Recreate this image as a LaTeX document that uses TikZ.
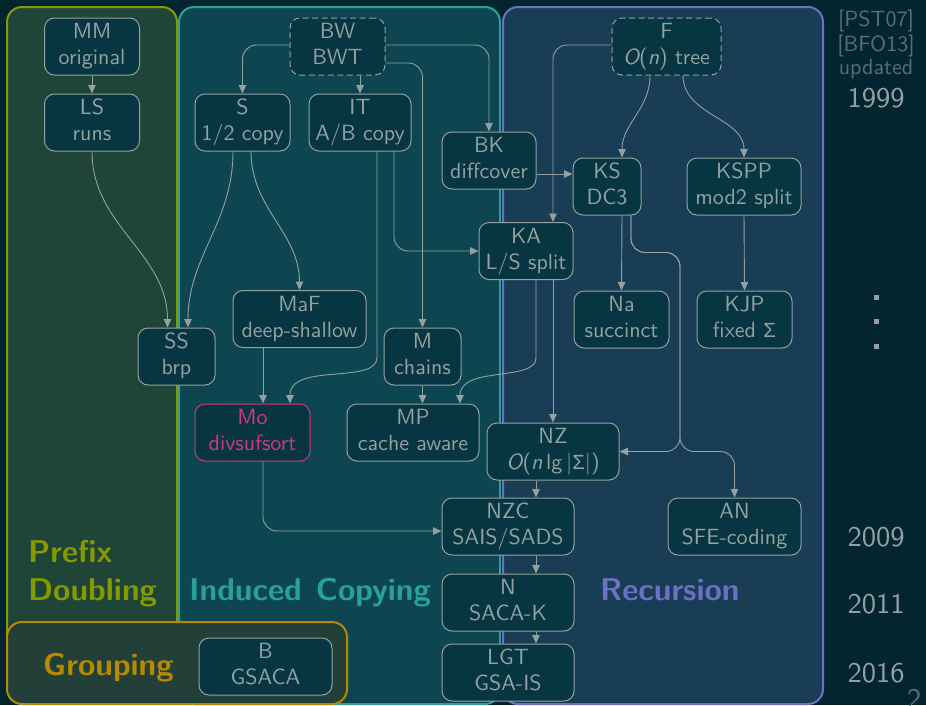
\documentclass[tikz,border=0pt]{standalone}
\usepackage{fontspec}
\setsansfont{lmsans10-regular}[Extension=.otf, BoldFont=lmsans10-bold, ItalicFont=lmsans10-oblique, BoldItalicFont=lmsans10-boldoblique]
\newfontfamily\sigmafont{Liberation Sans}[Scale=0.93]
\usetikzlibrary{arrows.meta}
\definecolor{bgc}{HTML}{032530}
\definecolor{nodefill}{HTML}{073642}
\definecolor{txt}{HTML}{93A1A1}
\definecolor{dim}{HTML}{586E75}
\definecolor{sgreen}{HTML}{859900}
\definecolor{scyan}{HTML}{2AA198}
\definecolor{sviolet}{HTML}{6C71C4}
\definecolor{syellow}{HTML}{B58900}
\definecolor{smagenta}{HTML}{D33682}
\definecolor{greenfill}{HTML}{1F4438}
\definecolor{cyanfill}{HTML}{0D4650}
\definecolor{violetfill}{HTML}{183D55}
\definecolor{yellowfill}{HTML}{223F38}
\newcommand\mynodefont{\fontsize{22}{26}\selectfont\sffamily}
\newcommand\mygrpfont{\fontsize{31.5}{37}\selectfont\sffamily\bfseries}
\newcommand\mysidefont{\fontsize{22}{26}\selectfont\sffamily}
\newcommand\myyearfont{\fontsize{28.5}{34}\selectfont\sffamily}
\newcommand\twolines[2]{\strut#1\\\strut#2}
\newcommand\mySig{{\sigmafont Σ}}
\tikzset{
  algo/.style={draw=txt, fill=nodefill, text=txt, rounded corners=10pt, line width=1pt,
    minimum height=57pt, inner sep=0pt, align=center, font=\mynodefont},
  dashedalgo/.style={algo, dash pattern=on 6pt off 3.5pt},
  conn/.style={draw=txt, line width=0.9pt, -{Triangle[length=8.5pt,width=7.5pt]}, rounded corners=14pt},
  region/.style={rounded corners=15pt, line width=2pt},
  grp/.style={inner sep=0pt, font=\mygrpfont, anchor=base west},
  side/.style={inner sep=0pt, font=\mysidefont, text=dim, anchor=base},
  yearlbl/.style={inner sep=0pt, font=\myyearfont, text=txt, anchor=base},
}
\begin{document}
\begin{tikzpicture}[x=1pt,y=-1pt]
\useasboundingbox (0,0) rectangle (926,705);
\clip (0,0) rectangle (926,705);
\fill[bgc] (0,0) rectangle (926,705);

% regions
\draw[region, draw=scyan, fill=cyanfill] (179,7) rectangle (500,704);
\draw[region, draw=sviolet, fill=violetfill] (503,7) rectangle (823,704);
\draw[region, draw=sgreen, fill=greenfill] (7,7) rectangle (177,660);
\draw[region, draw=syellow, fill=yellowfill] (7,622) rectangle (347,704);

% region labels
\node[grp, text=sgreen] (lpd1) at (28,562) {Prefix};
\node[grp, text=sgreen] (lpd2) at (28,600) {Doubling};
\node[grp, text=scyan] (lic) at (189,600) {Induced\hspace{0.45em}Copying};
\node[grp, text=sviolet] (lrec) at (600,600) {Recursion};
\node[grp, text=syellow] (lgrp) at (43,675) {Grouping};

% right column
\node[side] (pst) at (876,26) {[PST07]};
\node[side] (bfo) at (876,51) {[BFO13]};
\node[side] (upd) at (876,74) {updated};
\node[yearlbl] (y1999) at (876,107) {1999};
\node[yearlbl] (y2009) at (876,546) {2009};
\node[yearlbl] (y2011) at (876,613) {2011};
\node[yearlbl] (y2016) at (876,682) {2016};
\fill[txt] (873.5,294.8) rectangle ++(5,5);
\fill[txt] (873.5,319.2) rectangle ++(5,5);
\fill[txt] (873.5,343.5) rectangle ++(5,5);
\node[inner sep=0pt, font=\myyearfont, text=dim, anchor=base west] (pg) at (907,708) {2};

% algorithm nodes
\node[algo, minimum width=95pt] (MM) at (92,46.5) {\twolines{MM}{original}};
\node[algo, minimum width=95pt] (LS) at (92,122.5) {\twolines{LS}{runs}};
\node[algo, minimum width=95pt] (S) at (242.5,122.5) {\twolines{S}{1/2 copy}};
\node[dashedalgo, minimum width=95pt] (BW) at (337.5,46.5) {\twolines{BW}{BWT}};
\node[algo, minimum width=102pt] (IT) at (360,122.5) {\twolines{IT}{A/B copy}};
\node[algo, minimum width=94pt] (BK) at (489,160.5) {\twolines{BK}{diffcover}};
\node[algo, minimum width=68pt] (KS) at (607,186.5) {\twolines{KS}{DC3}};
\node[algo, minimum width=114pt] (KSPP) at (744,186.5) {\twolines{KSPP}{mod2 split}};
\node[dashedalgo, minimum width=109pt] (F) at (666.5,46.5) {\twolines{F}{{\itshape O}({\itshape n}) tree}};
\node[algo, minimum width=94pt] (KA) at (526,251) {\twolines{KA}{L/S split}};
\node[algo, minimum width=95pt] (Na) at (621.5,319.5) {\twolines{Na}{succinct}};
\node[algo, minimum width=95pt] (KJP) at (744.5,319.5) {\twolines{KJP}{fixed \mySig}};
\node[algo, minimum width=133pt] (MaF) at (299.5,319) {\twolines{MaF}{deep-shallow}};
\node[algo, minimum width=77pt] (SS) at (176.5,356.5) {\twolines{SS}{brp}};
\node[algo, minimum width=77pt] (M) at (422.5,356.5) {\twolines{M}{chains}};
\node[algo, minimum width=115pt, draw=smagenta, text=smagenta] (Mo) at (252.5,432.5) {\twolines{Mo}{divsufsort}};
\node[algo, minimum width=132pt] (MP) at (413,432.5) {\twolines{MP}{cache aware}};
\node[algo, minimum width=132pt] (NZ) at (553,451.5) {\twolines{NZ}{{\itshape O}({\itshape n}\,lg\,|\mySig|)}};
\node[algo, minimum width=132pt] (NZC) at (508,526.5) {\twolines{NZC}{SAIS/SADS}};
\node[algo, minimum width=133pt] (AN) at (734.5,526.5) {\twolines{AN}{SFE-coding}};
\node[algo, minimum width=132pt] (N) at (508,602.5) {\twolines{N}{SACA-K}};
\node[algo, minimum width=132pt] (LGT) at (508,672.5) {\twolines{LGT}{GSA-IS}};
\node[algo, minimum width=133pt] (B) at (265.5,666.5) {\twolines{B}{GSACA}};

\coordinate (split) at (680,451.5);

% connectors
\draw[conn] (MM.south) -- (LS.north);
\draw[conn] (LS.south) to[out=-90,in=90] ([xshift=-9pt]SS.north);
\draw[conn] ([xshift=-9.5pt]S.south) to[out=-90,in=90] ([xshift=11.5pt]SS.north);
\draw[conn] ([xshift=8.5pt]S.south) to[out=-90,in=90] (MaF.north);
\draw[conn] ([yshift=1.5pt]BW.west) -| (S.north);
\draw[conn] ([xshift=22.5pt]BW.south) -- (IT.north);
\draw[conn] ([yshift=1.5pt]BW.east) -| (BK.north);
\draw[conn] ([yshift=-16.5pt]BW.east) -| (M.north);
\draw[conn] ([xshift=34pt]IT.south) |- (KA.west);
\draw[conn] ([xshift=17pt]IT.south) -- ++(0,192) to[out=-90,in=90] ([xshift=37.5pt]Mo.north);
\draw[conn] ([xshift=10pt]KA.south) -- ++(0,64) to[out=-90,in=90] ([xshift=47pt]MP.north);
\draw[conn] ([xshift=27pt]KA.south) -- (NZ.north);
\draw[conn] ([yshift=1.5pt]F.west) -| ([xshift=27pt]KA.north);
\draw[conn] ([xshift=-16.5pt]F.south) to[out=-90,in=90] ([xshift=15pt]KS.north);
\draw[conn] ([xshift=16.5pt]F.south) to[out=-90,in=90] (KSPP.north);
\draw[conn] ([yshift=-13.5pt]BK.east) -- ([yshift=-13.5pt]BK.east -| KS.west);
\draw[conn] ([xshift=15pt]KS.south) -- (Na.north);
\draw[conn] ([xshift=24pt]KS.south) -- ++(0,37) -| (split) -- (NZ.east);
\draw[conn] ([xshift=24pt]KS.south) -- ++(0,37) -| (split) -| (AN.north);
\draw[conn] (KSPP.south) -- (KJP.north);
\draw[conn] ([xshift=-36.5pt]MaF.south) -- ([xshift=10.5pt]Mo.north);
\draw[conn] (M.south) -- ([xshift=9.5pt]MP.north);
\draw[conn] ([xshift=-17pt]NZ.south) -- ([xshift=28pt]NZC.north);
\draw[conn] ([xshift=10.5pt]Mo.south) |- ([yshift=-4.5pt]NZC.west);
\draw[conn] ([xshift=28pt]NZC.south) -- ([xshift=28pt]N.north);
\draw[conn] ([xshift=28pt]N.south) -- ([xshift=28pt]LGT.north);
\end{tikzpicture}
\end{document}
